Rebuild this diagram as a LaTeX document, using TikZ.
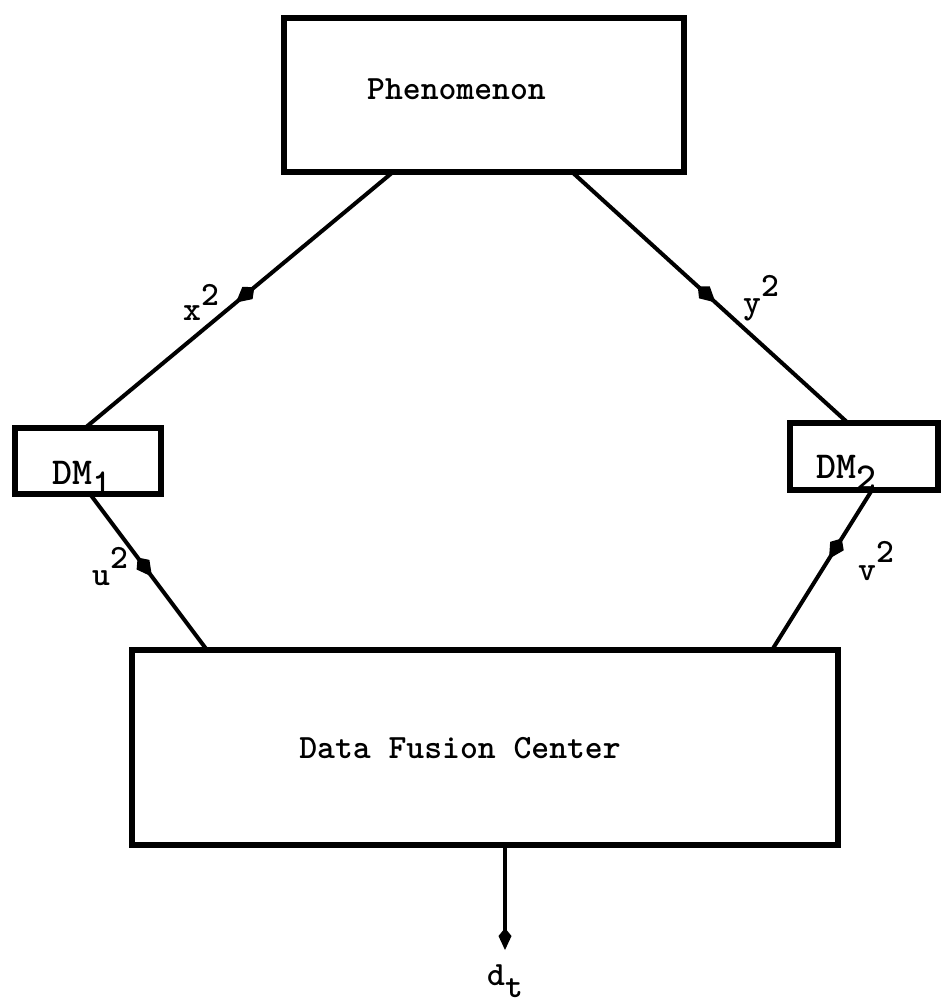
\documentclass[tikz,border=0pt]{standalone}
\usepackage{fontspec}
\usetikzlibrary{arrows.meta,decorations.markings}
\tikzset{
  box/.style={draw, line width=6pt, rectangle, inner sep=0pt},
  wire/.style={line width=4pt},
  lbl/.style={font=\ttfamily\bfseries\fontsize{34}{36}\selectfont,
      inner sep=0pt, anchor=base west},
  dmlbl/.style={lbl, font=\ttfamily\bfseries\fontsize{38}{40}\selectfont},
  midarrow/.style={postaction={decorate}, decoration={markings,
      mark=at position #1 with {\arrow{Kite[length=24pt,width=16pt,inset=9pt]}}}},
}
\begin{document}
\begin{tikzpicture}[x=1pt,y=-1pt]
\useasboundingbox (0,0) rectangle (941,1006);

% blocks
\node[box, minimum width=400pt, minimum height=154pt] (phen) at (484,95) {};
\node[box, minimum width=146pt, minimum height=66pt] (dm1) at (88,461) {};
\node[box, minimum width=148pt, minimum height=67pt] (dm2) at (864,456.5) {};
\node[box, minimum width=706pt, minimum height=195pt] (dfc) at (485,747.5) {};

% block texts
\node[lbl] (tphen) at (367,100) {Phenomenon};
\node[dmlbl] (tdm1) at (52,484) {DM\raisebox{-11pt}{1}};
\node[dmlbl] (tdm2) at (816,478) {DM\raisebox{-11pt}{2}};
\node[lbl, anchor=base] (tdfc) at (460,758) {Data Fusion Center};

% attachment points on the block borders
\coordinate (pA) at (393,172);
\coordinate (pB) at (572,172);
\coordinate (dm1t) at (85,428);
\coordinate (dm2t) at (848,423);
\coordinate (dm1b) at (90,494);
\coordinate (dm2b) at (872,490);
\coordinate (dfcA) at (207,650);
\coordinate (dfcB) at (772,650);
\coordinate (dfcO) at (505,845);
\coordinate (out) at (505,950);

% connectors with mid-line arrowheads
\draw[wire, midarrow=0.51] (pA) -- (dm1t);
\draw[wire, midarrow=0.52] (pB) -- (dm2t);
\draw[wire, midarrow=0.53] (dm1b) -- (dfcA);
\draw[wire, midarrow=0.43] (dm2b) -- (dfcB);
\draw[wire, -{Kite[length=22pt,width=13pt,inset=8pt]}] (dfcO) -- (out);

% signal labels
\node[lbl] (lx) at (183,320) {x\raisebox{15pt}{2}};
\node[lbl] (ly) at (743,313) {y\raisebox{17pt}{2}};
\node[lbl] (lu) at (92,585) {u\raisebox{17pt}{2}};
\node[lbl] (lv) at (858,580) {v\raisebox{18pt}{2}};
\node[lbl] (ld) at (487,985) {d\raisebox{-12pt}{t}};
\end{tikzpicture}
\end{document}
